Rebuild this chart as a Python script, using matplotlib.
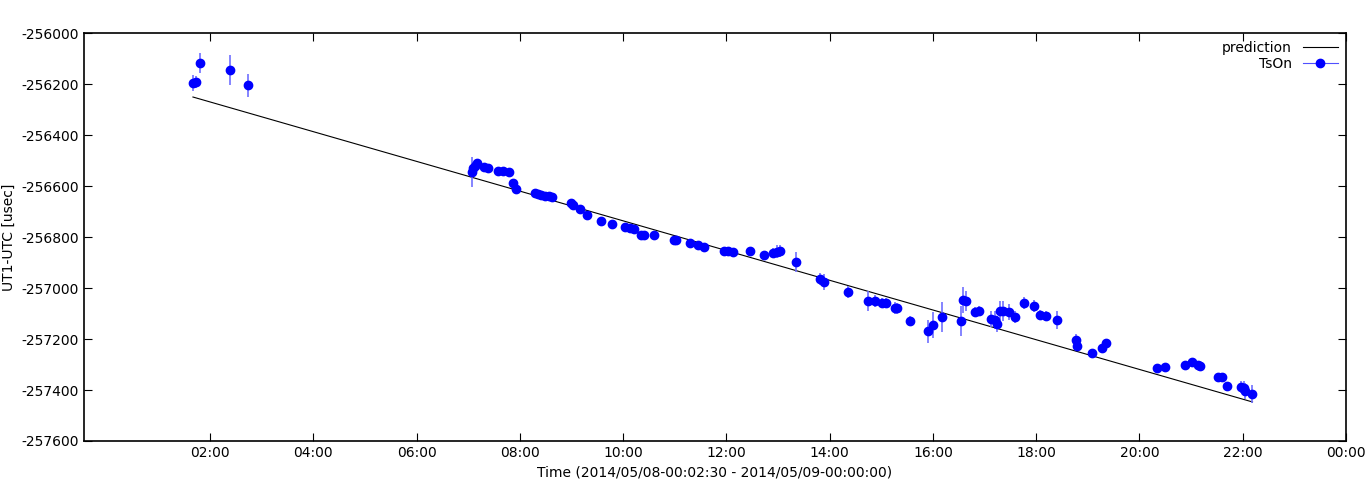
import numpy as np
import matplotlib
matplotlib.use("Agg")
import matplotlib.pyplot as plt
from matplotlib.lines import Line2D

# time in hours since 2014/05/08 00:00, UT1-UTC in usec
t_hours = [1.67, 1.73, 1.81, 2.39, 2.74,
           7.07, 7.09, 7.13, 7.17, 7.30, 7.38, 7.58, 7.67, 7.80, 7.87, 7.93,
           8.29, 8.35, 8.41, 8.49, 8.56, 8.62, 9.00, 9.03, 9.16, 9.30, 9.57, 9.78,
           10.03, 10.13, 10.21, 10.34, 10.40, 10.60, 10.98, 11.02, 11.29, 11.45, 11.57,
           11.95, 12.03, 12.13, 12.45, 12.73, 12.90, 12.98, 13.04, 13.35,
           13.81, 13.90, 14.35, 14.74, 14.87, 15.01, 15.10, 15.26, 15.30, 15.55,
           15.90, 16.00, 16.17, 16.54, 16.58, 16.64, 16.81, 16.89, 17.12, 17.20, 17.24,
           17.30, 17.36, 17.47, 17.59, 17.76, 17.96, 18.07, 18.19, 18.40,
           18.77, 18.80, 19.08, 19.27, 19.35, 20.34, 20.49, 20.88, 21.01, 21.13, 21.17,
           21.52, 21.59, 21.69, 21.96, 22.02, 22.04, 22.18]
ut1_utc = [-256196, -256192, -256118, -256145, -256204,
           -256545, -256530, -256520, -256510, -256525, -256529, -256541, -256543, -256545, -256588, -256612,
           -256627, -256633, -256637, -256641, -256641, -256643, -256667, -256674, -256690, -256714, -256737, -256749,
           -256761, -256765, -256769, -256792, -256794, -256792, -256812, -256810, -256824, -256831, -256839,
           -256855, -256855, -256859, -256855, -256871, -256863, -256857, -256855, -256898,
           -256965, -256976, -257016, -257051, -257051, -257059, -257059, -257078, -257080, -257129,
           -257169, -257145, -257114, -257129, -257047, -257050, -257094, -257090, -257122, -257126, -257141,
           -257092, -257090, -257094, -257114, -257059, -257071, -257106, -257110, -257125,
           -257204, -257227, -257255, -257235, -257216, -257314, -257310, -257302, -257290, -257300, -257306,
           -257349, -257349, -257384, -257388, -257394, -257404, -257416]
ut1_err = [30, 25, 40, 60, 45,
           60, 25, 20, 15, 10, 10, 10, 10, 10, 15, 15,
           15, 10, 10, 10, 10, 10, 10, 10, 10, 10, 8, 8,
           8, 8, 8, 8, 8, 8, 8, 8, 8, 8, 8,
           8, 8, 8, 8, 10, 20, 25, 25, 40,
           25, 30, 25, 40, 25, 20, 20, 25, 20, 20,
           45, 50, 60, 60, 50, 40, 20, 20, 30, 35, 30,
           40, 40, 30, 25, 25, 25, 20, 20, 35,
           25, 15, 15, 15, 15, 10, 10, 10, 10, 10, 15,
           15, 15, 15, 25, 30, 30, 35]

pred_t = [1.67, 22.19]
pred_v = [-256251, -257447]

fig = plt.figure(figsize=(13.68, 5.04), dpi=100)
ax = fig.add_axes([0.0614, 0.125, 0.9225, 0.8095])

ax.plot(pred_t, pred_v, color="black", lw=0.8)
ax.errorbar(t_hours, ut1_utc, yerr=ut1_err, fmt="o", color="#0000ff", ms=6,
            ecolor="#7070ff", elinewidth=1.2)

ax.set_xlim(-0.44, 24.0)
ax.set_ylim(-257600, -256000)
xt = list(range(2, 25, 2))
ax.set_xticks(xt)
ax.set_xticklabels(["%02d:00" % (h % 24) for h in xt])
ax.set_yticks(range(-257600, -255999, 200))
ax.yaxis.set_major_formatter(matplotlib.ticker.FuncFormatter(lambda v, p: "%d" % v))
ax.tick_params(direction="in", top=True, right=True, length=6, labelsize=10)
for s in ax.spines.values():
    s.set_linewidth(1.2)

ax.set_xlabel("Time (2014/05/08-00:02:30 - 2014/05/09-00:00:00)", fontsize=10)
ax.set_ylabel("UT1-UTC [usec]", fontsize=10)
handles = [Line2D([], [], color="black", lw=0.8),
           Line2D([], [], color="#5050ff", lw=0.8, marker="o", mfc="#0000ff", mec="#0000ff", ms=6)]
ax.legend(handles, ["prediction", "TsOn"], loc="upper right", frameon=False, markerfirst=False,
          fontsize=10, handlelength=2.5, borderaxespad=0.2, labelspacing=0.1)

fig.savefig("out.png")
